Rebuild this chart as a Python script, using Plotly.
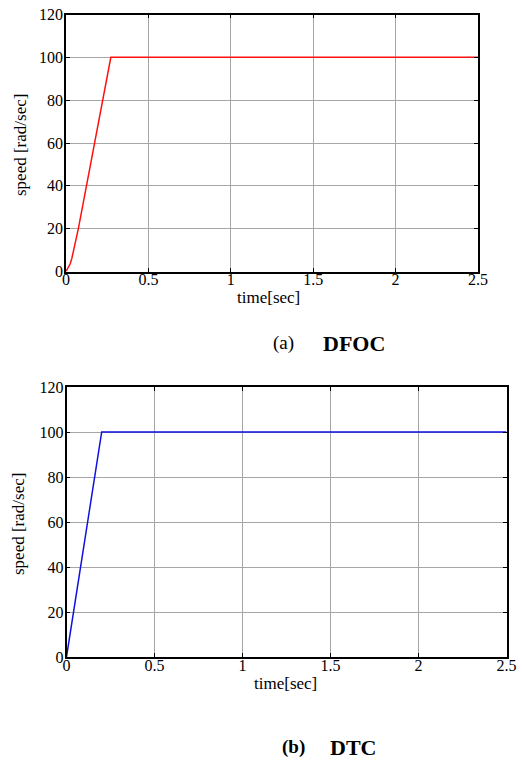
import plotly.graph_objects as go

# Rotor speed response of the two drives (time in s, speed in rad/s)
dfoc_time = [0.0, 0.012, 0.025, 0.035, 0.075, 0.272, 2.5]
dfoc_speed = [0.0, 1.5, 3.5, 6.0, 20.0, 100.0, 100.0]

dtc_time = [0.0, 0.2, 2.5]
dtc_speed = [0.0, 100.0, 100.0]

x_ticks = [0, 0.5, 1, 1.5, 2, 2.5]
x_tick_text = ["0", "0.5", "1", "1.5", "2", "2.5"]
y_ticks = [0, 20, 40, 60, 80, 100, 120]

W, H = 522, 762
SERIF = "Liberation Serif"


def px(x):
    return x / W


def py(y):
    return 1 - y / H


fig = go.Figure()
fig.add_trace(go.Scatter(x=dfoc_time, y=dfoc_speed, mode="lines",
                         line=dict(color="#ff1010", width=1.5),
                         xaxis="x", yaxis="y", showlegend=False))
fig.add_trace(go.Scatter(x=dtc_time, y=dtc_speed, mode="lines",
                         line=dict(color="#1010e0", width=1.5),
                         xaxis="x2", yaxis="y2", showlegend=False))

axis_common = dict(
    showline=True, linecolor="black", linewidth=1.5, mirror="ticks",
    ticks="inside", ticklen=4, tickcolor="black", tickwidth=1,
    showgrid=True, gridcolor="#a6a6a6", gridwidth=1, zeroline=False,
    automargin=False,
    tickfont=dict(family=SERIF, size=16, color="black"),
)

xa = dict(axis_common, range=[0, 2.5], tickvals=x_ticks, ticktext=x_tick_text,
          ticklabelstandoff=-7)
ya = dict(axis_common, range=[0, 120], tickvals=y_ticks, ticklabelstandoff=-2)

fig.update_layout(
    width=W, height=H,
    margin=dict(l=0, r=0, t=0, b=0, pad=0, autoexpand=False),
    font=dict(family=SERIF, color="black"),
    paper_bgcolor="white", plot_bgcolor="white",
    xaxis=dict(xa, domain=[px(66), px(478)], anchor="y"),
    yaxis=dict(ya, domain=[py(271.5), py(14.5)], anchor="x"),
    xaxis2=dict(xa, domain=[px(66.5), px(506.5)], anchor="y2"),
    yaxis2=dict(ya, domain=[py(657), py(387)], anchor="x2"),
)

labels = [
    # axis titles
    dict(x=px(268), y=py(297), text="time[sec]", size=17, angle=0),
    dict(x=px(20), y=py(145), text="speed [rad/sec]", size=17, angle=-90),
    dict(x=px(285), y=py(683), text="time[sec]", size=17, angle=0),
    dict(x=px(18), y=py(524), text="speed [rad/sec]", size=17, angle=-90),
    # panel captions
    dict(x=px(283.5), y=py(343), text="(a)", size=19, angle=0),
    dict(x=px(353.5), y=py(343), text="<b>DFOC</b>", size=22, angle=0),
    dict(x=px(293.5), y=py(747), text="<b>(b)</b>", size=19, angle=0),
    dict(x=px(353), y=py(747), text="<b>DTC</b>", size=22, angle=0),
]
for lb in labels:
    fig.add_annotation(x=lb["x"], y=lb["y"], xref="paper", yref="paper",
                       text=lb["text"], showarrow=False, textangle=lb["angle"],
                       xanchor="center", yanchor="middle",
                       font=dict(family=SERIF, size=lb["size"], color="black"))

fig.write_html("out.html")
